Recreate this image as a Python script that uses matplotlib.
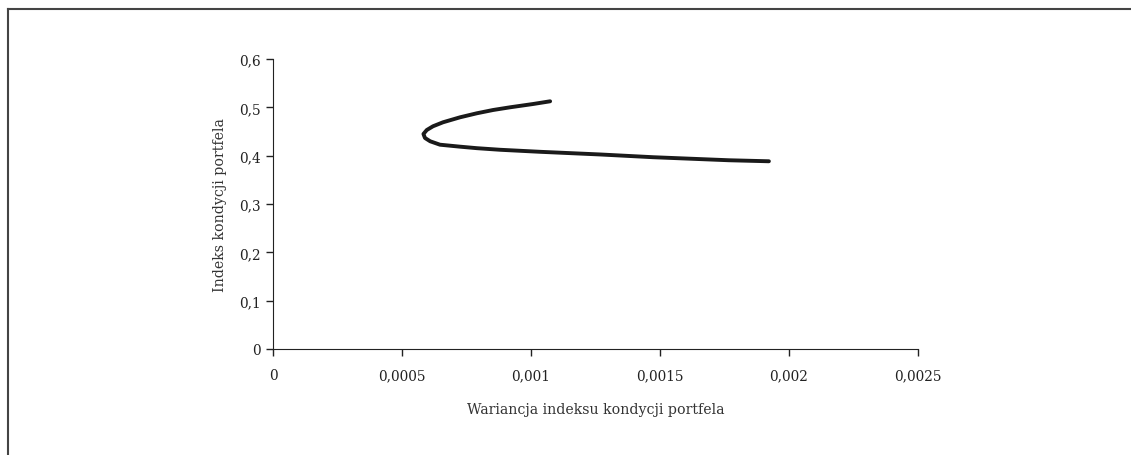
import matplotlib.pyplot as plt
from matplotlib.lines import Line2D
from matplotlib.ticker import FuncFormatter

# frontier (variance, index)
wariancja = [0.001074, 0.001008, 0.000919, 0.000853, 0.000790, 0.000725, 0.000659,
             0.000620, 0.000596, 0.000583, 0.000589, 0.000609, 0.000647, 0.000725,
             0.000790, 0.000880, 0.001035, 0.001267, 0.001473, 0.001767, 0.001922]
indeks = [0.5125, 0.5069, 0.5001, 0.4945, 0.4877, 0.4794, 0.4691,
          0.4608, 0.4531, 0.4449, 0.4366, 0.4298, 0.4227, 0.4186,
          0.4155, 0.4122, 0.4080, 0.4025, 0.3968, 0.3905, 0.3884]

xticks = [0, 0.0005, 0.001, 0.0015, 0.002, 0.0025]
yticks = [0, 0.1, 0.2, 0.3, 0.4, 0.5, 0.6]

plt.rcParams['font.family'] = ['DejaVu Serif']

fig = plt.figure(figsize=(11.31, 4.56), dpi=100)
ax = fig.add_axes([0.2414, 0.2325, 0.5703, 0.6359])

ax.plot(wariancja, indeks, color='#1a1a1a', linewidth=2.8,
        solid_capstyle='round', solid_joinstyle='round')

ax.set_xlim(0, 0.0025)
ax.set_ylim(0, 0.6)
ax.set_xticks(xticks)
ax.set_yticks(yticks)


def comma(v, pos):
    s = ('%.4f' % v).rstrip('0').rstrip('.')
    return s.replace('.', ',')


ax.xaxis.set_major_formatter(FuncFormatter(comma))
ax.yaxis.set_major_formatter(FuncFormatter(comma))
ax.tick_params(labelsize=9.8, colors='#222222', length=5, width=1)
ax.tick_params(axis='x', pad=9)
for s in ['top', 'right']:
    ax.spines[s].set_visible(False)
for s in ['left', 'bottom']:
    ax.spines[s].set_color('#222222')

ax.set_xlabel('Wariancja indeksu kondycji portfela', fontsize=10.2, color='#333333', labelpad=14)
ax.set_ylabel('Indeks kondycji portfela', fontsize=10.2, color='#333333', labelpad=9)

# frame around the figure (only top and left edges show)
fig.add_artist(Line2D([8 / 1131, 8 / 1131], [0, 1 - 10 / 456], color='#444444', linewidth=1.5))
fig.add_artist(Line2D([8 / 1131, 1], [1 - 10 / 456, 1 - 10 / 456], color='#444444', linewidth=1.5))

fig.savefig('out.png', dpi=100, facecolor='white')
